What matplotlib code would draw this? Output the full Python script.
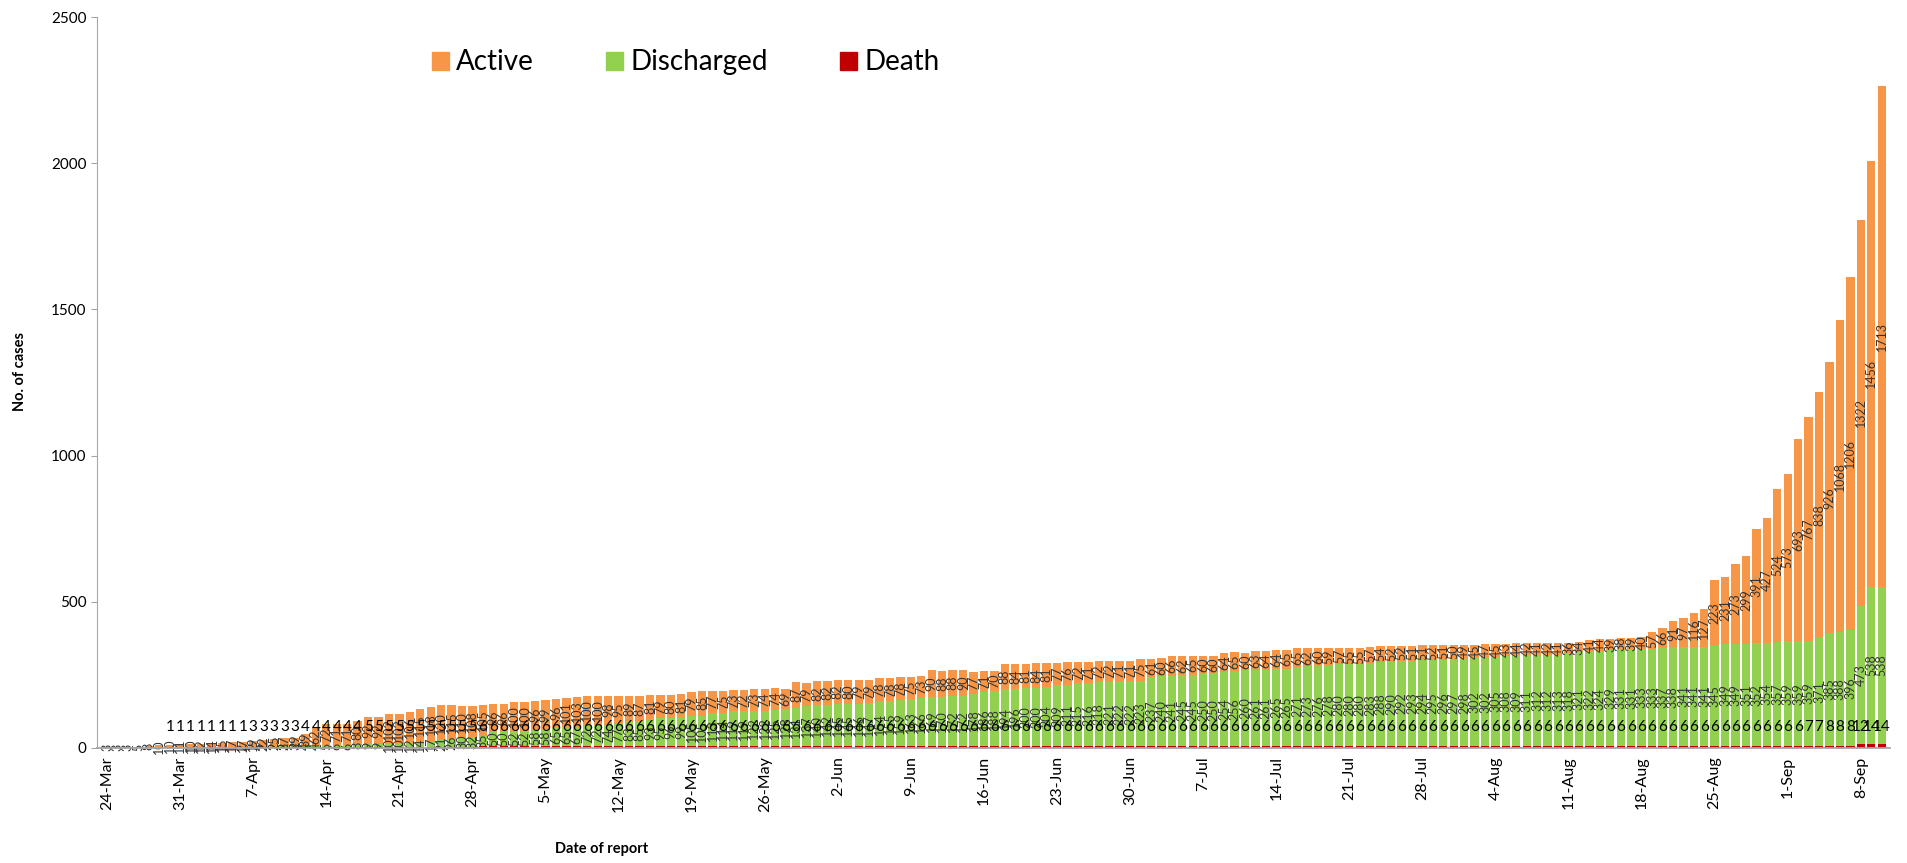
import matplotlib
matplotlib.use("Agg")
import matplotlib.pyplot as plt
from matplotlib.patches import Patch
import numpy as np
import pandas as pd

# daily categories, 24-Mar to 10-Sep
dates = pd.date_range("2020-03-24", "2020-09-10", freq="D")

# one row per week (7 days), last row 3 days
active = [
    3, 3, 3, 5, 8, 10, 10,
    11, 10, 12, 14, 15, 17, 17,
    19, 22, 25, 27, 29, 39, 62,
    72, 71, 71, 80, 92, 92, 102,
    102, 106, 115, 118, 120, 115, 110,
    108, 105, 96, 96, 100, 100, 96,
    99, 96, 101, 103, 100, 100, 98,
    95, 89, 87, 81, 79, 80, 81,
    79, 85, 77, 75, 73, 72, 73,
    74, 74, 69, 87, 79, 82, 82,
    82, 80, 79, 79, 78, 78, 78,
    75, 73, 90, 88, 88, 90, 77,
    71, 70, 88, 84, 81, 84, 81,
    77, 76, 72, 71, 72, 72, 71,
    71, 75, 61, 60, 66, 62, 65,
    60, 60, 64, 65, 60, 63, 64,
    64, 65, 65, 62, 60, 59, 57,
    55, 55, 57, 54, 52, 52, 51,
    51, 52, 51, 50, 49, 45, 47,
    45, 43, 44, 42, 41, 42, 41,
    36, 34, 41, 44, 39, 38, 39,
    40, 57, 66, 91, 97, 116, 127,
    223, 231, 273, 299, 391, 427, 524,
    573, 693, 767, 838, 926, 1068, 1206,
    1322, 1456, 1713,
]

discharged = [
    0, 0, 0, 0, 0, 0, 0,
    0, 1, 1, 1, 1, 1, 2,
    2, 2, 2, 3, 3, 4, 4,
    5, 6, 6, 8, 9, 9, 10,
    10, 12, 14, 17, 21, 26, 30,
    32, 35, 50, 50, 52, 52, 58,
    58, 65, 65, 67, 72, 72, 74,
    77, 83, 85, 93, 95, 96, 99,
    105, 105, 113, 114, 119, 119, 122,
    122, 125, 128, 131, 137, 140, 142,
    145, 145, 146, 147, 154, 155, 159,
    163, 166, 169, 170, 172, 172, 178,
    186, 188, 194, 196, 200, 200, 204,
    209, 211, 215, 216, 218, 221, 222,
    222, 223, 237, 240, 241, 245, 245,
    250, 250, 254, 256, 260, 261, 261,
    265, 265, 271, 273, 276, 278, 280,
    280, 280, 283, 288, 290, 292, 293,
    294, 295, 296, 297, 298, 302, 302,
    305, 308, 309, 311, 312, 312, 313,
    318, 321, 322, 324, 329, 331, 331,
    333, 333, 337, 338, 341, 341, 341,
    345, 349, 349, 351, 352, 354, 357,
    359, 359, 359, 371, 385, 388, 396,
    473, 538, 538,
]

death = [
    0, 0, 0, 0, 0, 0, 1,
    1, 1, 1, 1, 1, 1, 1,
    3, 3, 3, 3, 3, 4, 4,
    4, 4, 4, 4, 5, 5, 5,
    5, 5, 5, 5, 5, 5, 5,
    5, 6, 6, 6, 6, 6, 6,
    6, 6, 6, 6, 6, 6, 6,
    6, 6, 6, 6, 6, 6, 6,
    6, 6, 6, 6, 6, 6, 6,
    6, 6, 6, 6, 6, 6, 6,
    6, 6, 6, 6, 6, 6, 6,
    6, 6, 6, 6, 6, 6, 6,
    6, 6, 6, 6, 6, 6, 6,
    6, 6, 6, 6, 6, 6, 6,
    6, 6, 6, 6, 6, 6, 6,
    6, 6, 6, 6, 6, 6, 6,
    6, 6, 6, 6, 6, 6, 6,
    6, 6, 6, 6, 6, 6, 6,
    6, 6, 6, 6, 6, 6, 6,
    6, 6, 6, 6, 6, 6, 6,
    6, 6, 6, 6, 6, 6, 6,
    6, 6, 6, 6, 6, 6, 6,
    6, 6, 6, 6, 6, 6, 6,
    6, 6, 7, 7, 8, 8, 8,
    12, 14, 14,
]

plt.rcParams["font.family"] = ["Lato", "DejaVu Sans"]

C_ACTIVE = "#F79646"
C_DISCH = "#92D050"
C_DEATH = "#C00000"
C_AXIS = "#A6A6A6"

x = np.arange(len(dates))
act = np.array(active)
dis = np.array(discharged)
dth = np.array(death)

fig = plt.figure(figsize=(19.07, 8.63), dpi=100)
ax = fig.add_axes([0.0509, 0.1333, 0.9402, 0.847])

w = 0.8
ax.bar(x, dth, width=w, color=C_DEATH)
ax.bar(x, dis, width=w, bottom=dth, color=C_DISCH)
ax.bar(x, act, width=w, bottom=dth + dis, color=C_ACTIVE)

# data labels
for i in x:
    if act[i] > 0:
        ax.text(i, dth[i] + dis[i] + act[i] / 2, str(act[i]), rotation=90,
                ha="center", va="center", fontsize=9, color="#333333")
    if dis[i] > 0:
        ax.text(i, dth[i] + dis[i] / 2, str(dis[i]), rotation=90,
                ha="center", va="center", fontsize=9, color="#333333")
    if dth[i] > 0:
        ax.text(i, 72, str(dth[i]), ha="center", va="center",
                fontsize=11, color="black")

ax.set_xlim(-0.96, len(x) - 0.2)
ax.set_ylim(0, 2500)
ax.set_yticks(np.arange(0, 2501, 500))
ax.tick_params(axis="y", labelsize=11, length=4, color=C_AXIS)

ticks = x[::7]
ax.set_xticks(ticks)
ax.set_xticklabels([f"{d.day}-{d.strftime('%b')}" for d in dates[::7]],
                   rotation=90, fontsize=11.5)
ax.tick_params(axis="x", length=0, pad=6)

for s in ["top", "right"]:
    ax.spines[s].set_visible(False)
for s in ["left", "bottom"]:
    ax.spines[s].set_color(C_AXIS)
    ax.spines[s].set_zorder(5)
ax.spines["bottom"].set_linewidth(1.3)

fig.text(0.0105, 0.570, "No. of cases", rotation=90, va="center", ha="center",
         fontsize=10.5, fontweight="bold")
fig.text(0.3157, 0.0162, "Date of report", va="center", ha="center",
         fontsize=10.5, fontweight="bold")

handles = [Patch(color=C_ACTIVE, label="Active"),
           Patch(color=C_DISCH, label="Discharged"),
           Patch(color=C_DEATH, label="Death")]
ax.legend(handles=handles, ncol=3, loc="center left",
          bbox_to_anchor=(0.2265, 0.9277), bbox_transform=fig.transFigure,
          frameon=False, fontsize=20, handlelength=0.62, handleheight=0.62,
          handletextpad=0.25, columnspacing=2.6, borderpad=0, borderaxespad=0)

fig.savefig("out.png", dpi=100)
